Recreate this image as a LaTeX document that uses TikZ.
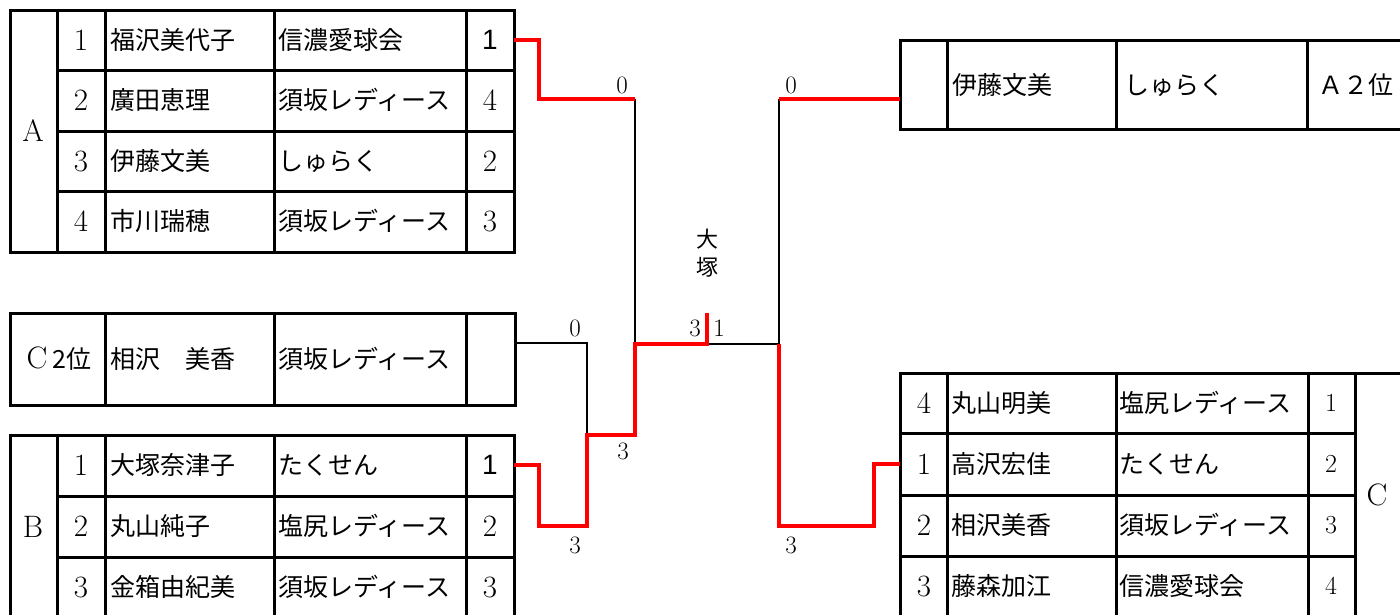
\documentclass[tikz,border=0pt]{standalone}
\usepackage{fontspec}
\newfontfamily\jp{Noto Sans CJK JP}
\newfontfamily\arialfont{Liberation Sans}
\begin{document}
\begin{tikzpicture}[x=1pt,y=-1pt,
  tbl/.style={line width=3pt},
  win/.style={draw=red,line width=4.5pt,line join=miter},
  brk/.style={draw=black,line width=2pt},
  jtxt/.style={font=\jp\fontsize{25}{25}\selectfont,anchor=west,inner sep=0pt},
  num/.style={font=\fontsize{31}{31}\selectfont,inner sep=0pt},
  snum/.style={font=\fontsize{26}{26}\selectfont,inner sep=0pt},
  anum/.style={font=\arialfont\fontsize{28}{28}\selectfont,inner sep=0pt},
  score/.style={font=\fontsize{25}{25}\selectfont,inner sep=0pt},
  jlabel/.style={font=\jp\fontsize{22}{22}\selectfont,inner sep=0pt}]
\useasboundingbox (0,0) rectangle (1400,614);
\clip (0,0) rectangle (1400,614);
\fill[white] (0,0) rectangle (1400,614);

% ---------- Table A ----------
\draw[tbl] (10,10) rectangle (514,252);
\foreach \x in {57,105,274,466} \draw[tbl] (\x,10) -- (\x,252);
\foreach \y in {70,131,191} \draw[tbl] (57,\y) -- (514,\y);
\node[num] (gA) at (33,131) {A};
\node[num] (a1n) at (81,40) {1};
\node[jtxt] (a1p) at (110,40) {福沢美代子};
\node[jtxt] (a1c) at (278,40) {信濃愛球会};
\node[anum] (a1r) at (490,40) {1};
\node[num] (a2n) at (81,100) {2};
\node[jtxt] (a2p) at (110,100) {廣田恵理};
\node[jtxt] (a2c) at (278,100) {須坂レディース};
\node[num] (a2r) at (490,100) {4};
\node[num] (a3n) at (81,161) {3};
\node[jtxt] (a3p) at (110,161) {伊藤文美};
\node[jtxt] (a3c) at (278,161) {しゅらく};
\node[num] (a3r) at (490,161) {2};
\node[num] (a4n) at (81,221) {4};
\node[jtxt] (a4p) at (110,221) {市川瑞穂};
\node[jtxt] (a4c) at (278,221) {須坂レディース};
\node[num] (a4r) at (490,221) {3};

% ---------- C2 row ----------
\draw[tbl] (10,313) rectangle (515,405);
\foreach \x in {105,274,466} \draw[tbl] (\x,313) -- (\x,405);
\node[num] (c2l) at (59,359) {C\,{\jp\fontsize{25}{25}\selectfont 2位}};
\node[jtxt] (c2p) at (110,359) {相沢　美香};
\node[jtxt] (c2c) at (278,359) {須坂レディース};

% ---------- Table B ----------
\draw[tbl] (10,435) rectangle (514,640);
\foreach \x in {57,105,274,466} \draw[tbl] (\x,435) -- (\x,640);
\foreach \y in {496,557} \draw[tbl] (57,\y) -- (514,\y);
\node[num] (gB) at (33,527) {B};
\node[num] (b1n) at (81,465) {1};
\node[jtxt] (b1p) at (110,465) {大塚奈津子};
\node[jtxt] (b1c) at (278,465) {たくせん};
\node[anum] (b1r) at (490,465) {1};
\node[num] (b2n) at (81,526) {2};
\node[jtxt] (b2p) at (110,526) {丸山純子};
\node[jtxt] (b2c) at (278,526) {塩尻レディース};
\node[num] (b2r) at (490,526) {2};
\node[num] (b3n) at (81,587) {3};
\node[jtxt] (b3p) at (110,587) {金箱由紀美};
\node[jtxt] (b3c) at (278,587) {須坂レディース};
\node[num] (b3r) at (490,587) {3};

% ---------- Right top table ----------
\draw[tbl] (900,40) rectangle (1430,129);
\foreach \x in {947,1116,1307} \draw[tbl] (\x,40) -- (\x,129);
\node[jtxt] (rtp) at (952,85) {伊藤文美};
\node[jtxt] (rtc) at (1124,85) {しゅらく};
\node[jtxt,anchor=center] (rtr) at (1356,85) {Ａ２位};

% ---------- Table C ----------
\draw[tbl] (900,373) rectangle (1430,640);
\foreach \x in {947,1116,1308,1355} \draw[tbl] (\x,373) -- (\x,640);
\foreach \y in {433,495,556} \draw[tbl] (900,\y) -- (1355,\y);
\node[num] (gC) at (1377,495) {C};
\node[num] (c1n) at (924,403) {4};
\node[jtxt] (c1p) at (951,403) {丸山明美};
\node[jtxt] (c1c) at (1119,403) {塩尻レディース};
\node[snum] (c1r) at (1331,403) {1};
\node[num] (c2n) at (924,464) {1};
\node[jtxt] (c2pp) at (951,464) {高沢宏佳};
\node[jtxt] (c2cc) at (1119,464) {たくせん};
\node[snum] (c2r) at (1331,464) {2};
\node[num] (c3n) at (924,525) {2};
\node[jtxt] (c3p) at (951,525) {相沢美香};
\node[jtxt] (c3c) at (1119,525) {須坂レディース};
\node[snum] (c3r) at (1331,525) {3};
\node[num] (c4n) at (924,586) {3};
\node[jtxt] (c4p) at (951,586) {藤森加江};
\node[jtxt] (c4c) at (1119,586) {信濃愛球会};
\node[snum] (c4r) at (1331,586) {4};

% ---------- bracket coordinates ----------
\coordinate (pA) at (514,40);
\coordinate (pA1) at (539,40);
\coordinate (pA2) at (539,99);
\coordinate (sf1) at (635,99);
\coordinate (f1) at (635,344);
\coordinate (pC2) at (515,343);
\coordinate (pC2a) at (587,343);
\coordinate (q1) at (587,435);
\coordinate (pB) at (514,465);
\coordinate (pB1) at (539,465);
\coordinate (pB2) at (539,526);
\coordinate (pB3) at (587,526);
\coordinate (q2) at (635,435);
\coordinate (mid) at (707,344);
\coordinate (top) at (707,313);
\coordinate (f2) at (779,344);
\coordinate (sf2) at (779,99);
\coordinate (pR) at (900,99);
\coordinate (pCa) at (779,526);
\coordinate (pCb) at (874,526);
\coordinate (pCc) at (874,464);
\coordinate (pC) at (900,464);

% black lines
\draw[brk] (sf1) -- (f1);
\draw[brk] (pC2) -- (pC2a) -- (q1);
\draw[brk] (mid) -- (f2);
\draw[brk] (sf2) -- (f2);
% red (winner) lines
\draw[win] (pA) -- (pA1) -- (pA2) -- (sf1);
\draw[win] (pB) -- (pB1) -- (pB2) -- (pB3) -- (q1) -- (q2) -- (f1) -- (mid) -- (top);
\draw[win] (sf2) -- (pR);
\draw[win] (f2) -- (pCa) -- (pCb) -- (pCc) -- (pC);

% scores
\node[score] (s1) at (622,85) {0};
\node[score] (s2) at (575,328) {0};
\node[score] (s3) at (623,451) {3};
\node[score] (s4) at (575,545) {3};
\node[score] (s5) at (695,328) {3};
\node[score] (s6) at (719,328) {1};
\node[score] (s7) at (791,85) {0};
\node[score] (s8) at (791,545) {3};
\node[jlabel] (w1) at (707,239) {大};
\node[jlabel] (w2) at (707,267) {塚};
\end{tikzpicture}
\end{document}
